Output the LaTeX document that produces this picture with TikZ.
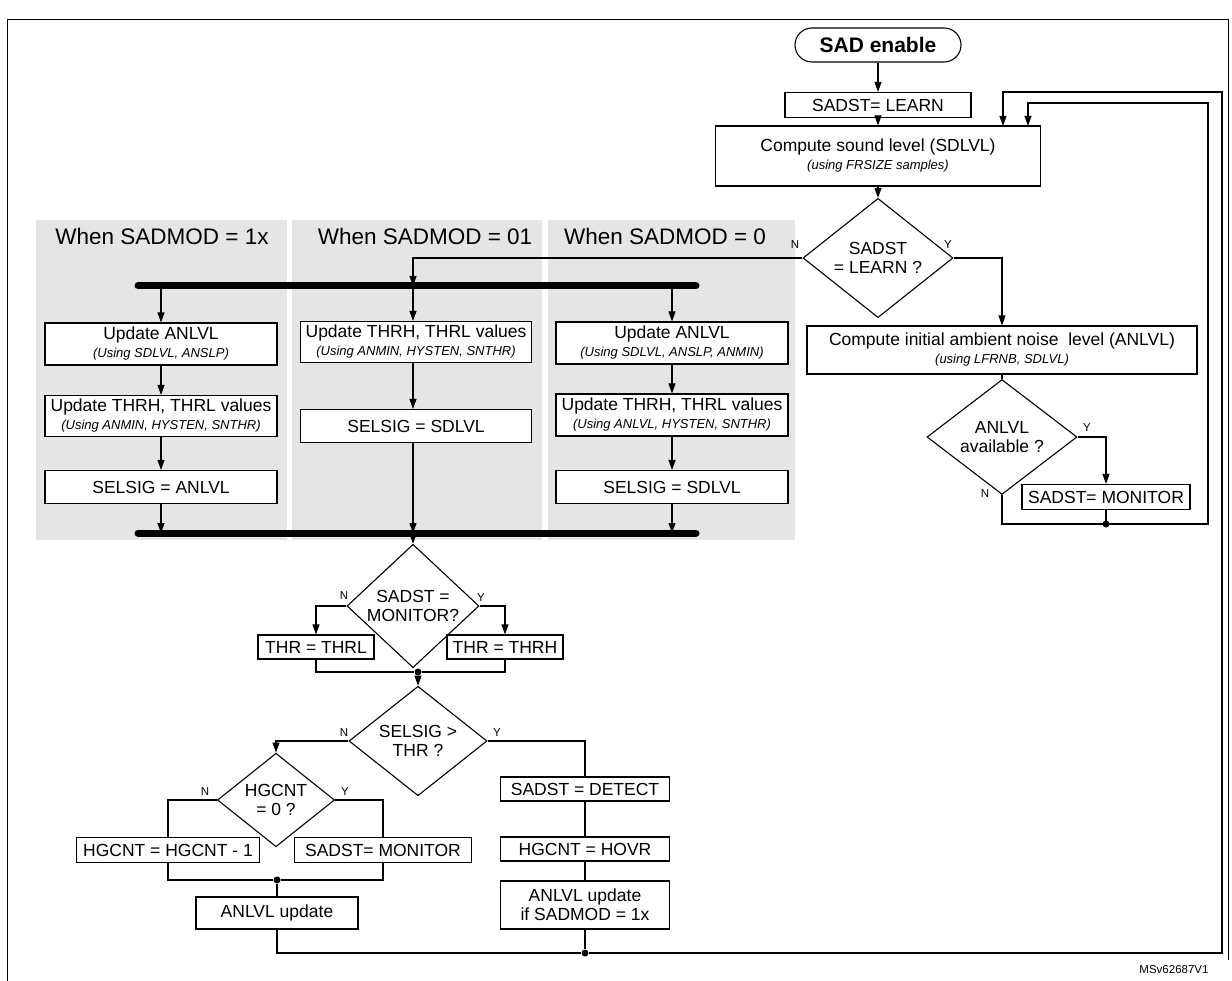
\documentclass[tikz,border=0pt]{standalone}
\usepackage{fontspec}
\setmainfont{Liberation Sans}
\usetikzlibrary{shapes.geometric,arrows.meta}

\newcommand\boxfont{\fontsize{17.5}{19}\selectfont}
\newcommand\smallit[1]{{\fontsize{13}{14}\selectfont\itshape #1}}

\tikzset{
    box/.style={draw, line width=1.1pt, fill=white, inner sep=0pt, align=center, font=\boxfont},
    decision/.style={diamond, draw, line width=1.1pt, fill=white, inner sep=0pt, align=center, font=\boxfont},
    panel/.style={fill=black!10, draw=none},
    header/.style={font=\fontsize{22.5}{24}\selectfont},
    yn/.style={font=\fontsize{11.5}{13}\selectfont},
    arr/.style={-{Triangle[length=10pt,width=7pt]}, line width=1.1pt},
    con/.style={line width=1.1pt},
    bar/.style={line width=7pt, line cap=round},
    dot/.style={circle, fill=black, inner sep=0pt, minimum size=7pt}
}

\begin{document}
\begin{tikzpicture}[x=1pt,y=-1pt]
\useasboundingbox (0,0) rectangle (1232,981);

% Frame
\draw[line width=1pt] (7,981) -- (7,20) -- (1228,20) -- (1228,960);

% Panels
\fill[panel] (36,220) rectangle (287,540);
\fill[panel] (292,220) rectangle (542,540);
\fill[panel] (548,220) rectangle (795,540);
\node[header] (h1) at (162,236) {When SADMOD = 1x};
\node[header] (h2) at (425,236) {When SADMOD = 01};
\node[header] (h3) at (665,236) {When SADMOD = 0};

% Main column
\node[box, rounded corners=17pt, minimum width=166pt, minimum height=34pt,
      font=\fontsize{21}{23}\selectfont\bfseries] (enable) at (878,45) {SAD enable};
\node[box, minimum width=186pt, minimum height=25pt] (learn) at (878,105) {SADST= LEARN};
\node[box, minimum width=325pt, minimum height=60pt] (sdlvl) at (878,156)
     {Compute sound level (SDLVL)\\[-1pt]\smallit{(using FRSIZE samples)}};
\node[decision, minimum width=150pt, minimum height=92pt] (dlearn) at (878,258) {SADST\\= LEARN ?};
\node[box, minimum width=390pt, minimum height=48pt] (init) at (1002,350)
     {Compute initial ambient noise\ \ level (ANLVL)\\[-1pt]\smallit{(using LFRNB, SDLVL)}};
\node[decision, minimum width=150pt, minimum height=92pt] (davail) at (1002,437) {ANLVL\\available ?};
\node[box, minimum width=168pt, minimum height=25pt] (mon1) at (1106,497) {SADST= MONITOR};
\coordinate (j1) at (1106,524);
\coordinate (r1) at (1208,103);
\coordinate (r2) at (1222,92);
\coordinate (in1) at (1028,126);
\coordinate (in2) at (1003,126);

% Bars
\coordinate (bt1) at (161,286);
\coordinate (bt2) at (413,286);
\coordinate (bt3) at (672,286);
\coordinate (bb1) at (161,533);
\coordinate (bb2) at (413,533);
\coordinate (bb3) at (672,533);
\draw[bar] (138,286) -- (696,286);
\draw[bar] (138,533) -- (696,533);

% SADMOD = 1x
\node[box, minimum width=232pt, minimum height=42pt] (c1a) at (161,344)
     {Update ANLVL\\[-1pt]\smallit{(Using SDLVL, ANSLP)}};
\node[box, minimum width=232pt, minimum height=41pt] (c1b) at (161,416)
     {Update THRH, THRL values\\[-1pt]\smallit{(Using ANMIN, HYSTEN, SNTHR)}};
\node[box, minimum width=232pt, minimum height=33pt] (c1c) at (161,487) {SELSIG = ANLVL};

% SADMOD = 01
\node[box, minimum width=231pt, minimum height=41pt] (c2a) at (416,342)
     {Update THRH, THRL values\\[-1pt]\smallit{(Using ANMIN, HYSTEN, SNTHR)}};
\node[box, minimum width=231pt, minimum height=33pt] (c2b) at (416,426) {SELSIG = SDLVL};

% SADMOD = 0
\node[box, minimum width=232pt, minimum height=42pt] (c3a) at (672,343)
     {Update ANLVL\\[-1pt]\smallit{(Using SDLVL, ANSLP, ANMIN)}};
\node[box, minimum width=232pt, minimum height=42pt] (c3b) at (672,415)
     {Update THRH, THRL values\\[-1pt]\smallit{(Using ANLVL, HYSTEN, SNTHR)}};
\node[box, minimum width=232pt, minimum height=33pt] (c3c) at (672,487) {SELSIG = SDLVL};

% Lower part
\node[decision, minimum width=132pt, minimum height=92pt] (dmon) at (413,606) {SADST =\\MONITOR?};
\node[box, minimum width=116pt, minimum height=24pt] (thrl) at (316,647) {THR = THRL};
\node[box, minimum width=116pt, minimum height=24pt] (thrh) at (505,647) {THR = THRH};
\node[dot] (j2) at (418,672) {};
\node[decision, minimum width=138pt, minimum height=88pt] (dsel) at (418,741) {SELSIG >\\THR ?};
\node[decision, minimum width=117pt, minimum height=75pt] (dhg) at (276,800) {HGCNT\\= 0 ?};
\node[box, minimum width=183pt, minimum height=25pt] (hgdec) at (168,850) {HGCNT = HGCNT - 1};
\node[box, minimum width=177pt, minimum height=25pt] (mon2) at (383,850) {SADST= MONITOR};
\node[dot] (j3) at (277,880) {};
\node[box, minimum width=162pt, minimum height=32pt] (anup) at (277,913) {ANLVL update};
\node[box, minimum width=169pt, minimum height=24pt] (det) at (585,789) {SADST = DETECT};
\node[box, minimum width=169pt, minimum height=24pt] (hovr) at (585,849) {HGCNT = HOVR};
\node[box, minimum width=169pt, minimum height=48pt] (anup2) at (585,905) {ANLVL update\\if SADMOD = 1x};
\node[dot] (j4) at (585,953) {};
\node[dot] (j1d) at (j1) {};

% Labels
\node[yn] (n1) at (795,245) {N};
\node[yn] (y1) at (948,245) {Y};
\node[yn] (y2) at (1087,428) {Y};
\node[yn] (n2) at (985,494) {N};
\node[yn] (n3) at (344,596) {N};
\node[yn] (y3) at (481,598) {Y};
\node[yn] (n4) at (344,733) {N};
\node[yn] (y4) at (497,733) {Y};
\node[yn] (n5) at (205,792) {N};
\node[yn] (y5) at (345,792) {Y};
\node[yn] (ref) at (1174,970) {MSv62687V1};

% Connectors, top
\draw[arr] (enable) -- (learn);
\draw[arr] (learn) -- (sdlvl);
\draw[arr] (sdlvl) -- (dlearn);
\draw[arr] (dlearn.west) -| (bt2);
\draw[arr] (dlearn.east) -| (init.north);
\draw[con] (init) -- (davail);
\draw[arr] (davail.east) -| (mon1.north);
\draw[con] (davail.south) |- (j1);
\draw[con] (mon1) -- (j1);
\draw[arr] (j1) -| (r1) -| (in1);

% Connectors, panels
\draw[arr] (bt1) -- (c1a);
\draw[arr] (c1a) -- (c1b);
\draw[arr] (c1b) -- (c1c);
\draw[arr] (c1c) -- (bb1);
\draw[arr] (bt2) -- (c2a.north -| bt2);
\draw[arr] (c2a.south -| bt2) -- (c2b.north -| bt2);
\draw[arr] (c2b.south -| bt2) -- (bb2);
\draw[arr] (bt3) -- (c3a);
\draw[arr] (c3a) -- (c3b);
\draw[arr] (c3b) -- (c3c);
\draw[arr] (c3c) -- (bb3);

% Connectors, bottom
\draw[arr] (bb2) -- (dmon);
\draw[arr] (dmon.west) -| (thrl.north);
\draw[arr] (dmon.east) -| (thrh.north);
\draw[con] (thrl.south) |- (j2) -| (thrh.south);
\draw[arr] (j2) -- (dsel);
\draw[arr] (dsel.west) -| (dhg.north);
\draw[con] (dsel.east) -| (det.north);
\draw[con] (det) -- (hovr);
\draw[con] (hovr) -- (anup2);
\draw[con] (anup2) -- (j4);
\draw[con] (dhg.west) -| (hgdec.north);
\draw[con] (dhg.east) -| (mon2.north);
\draw[con] (hgdec.south) |- (j3) -| (mon2.south);
\draw[con] (j3) -- (anup);
\draw[arr] (anup.south) |- (j4) -| (r2) -| (in2);

\end{tikzpicture}
\end{document}
